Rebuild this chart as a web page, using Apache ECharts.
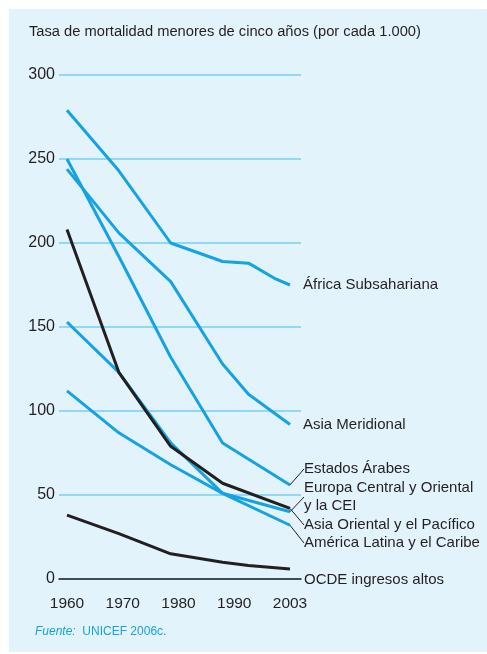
<!DOCTYPE html>
<html><head><meta charset="utf-8">
<script src="https://cdn.jsdelivr.net/npm/echarts@6/dist/echarts.min.js"></script>
<style>html,body{margin:0;padding:0;background:#fff}#c{width:487px;height:654px}</style>
</head><body><div id="c"></div>
<script>
// ---- data ----
const xTickLabels = ['1960', '1970', '1980', '1990', '2003'];
const yTicks = [0, 50, 100, 150, 200, 250, 300];
const africa = [[1960, 279], [1970, 243], [1980, 200], [1990, 189], [1995, 188], [2000, 179], [2003, 175]];
const asiaMeridional = [[1960, 244], [1970, 206], [1980, 177], [1990, 128], [1995, 110], [2003, 92]];
const estadosArabes = [[1960, 250], [1970, 192], [1980, 132], [1990, 81], [2003, 56]];
const europaCentral = [[1960, 112], [1970, 87], [1980, 68], [1990, 51], [2003, 40]];
const asiaOriental = [[1960, 208], [1970, 123], [1980, 79], [1990, 57], [2003, 42]];
const americaLatina = [[1960, 153], [1970, 123], [1980, 81], [1990, 51], [2003, 32]];
const ocde = [[1960, 38], [1970, 27], [1980, 15], [1990, 10], [1995, 8], [2003, 6]];
const seriesNames = ['África Subsahariana', 'Asia Meridional', 'Estados Árabes',
  'Europa Central y Oriental\ny la CEI', 'Asia Oriental y el Pacífico', 'América Latina y el Caribe', 'OCDE ingresos altos'];

const FONT = "'Liberation Sans', Arial, sans-serif";
const BLUE = '#15a3e2';
const DARK = '#231f20';
const GRID = '#74cff5';

const chart = echarts.init(document.getElementById('c'), null, {renderer: 'canvas'});

function mk(name, data, color, lay) {
  const last = data.length - 1;
  const d = data.map((p, i) => i === last ? {value: p, label: {show: true}} : {value: p});
  const s = {
    type: 'line', name: name, data: d, xAxisIndex: 0, yAxisIndex: 0,
    symbol: 'circle', symbolSize: 0.01, showSymbol: true, silent: true,
    lineStyle: {color: color, width: 3}, itemStyle: {color: color},
    z: color === DARK ? 4 : 3,
    label: {show: false, formatter: name, position: 'right', distance: 13,
      color: DARK, fontFamily: FONT, fontSize: 15, lineHeight: 18},
    labelLine: {show: !!(lay && lay.line), lineStyle: {color: DARK, width: 1}}
  };
  if (lay) {
    s.labelLayout = function () {
      return {x: lay.x, y: lay.y, align: 'left', verticalAlign: 'middle'};
    };
  }
  return s;
}

const option = {
  animation: false,
  backgroundColor: '#ffffff',
  graphic: [
    {type: 'rect', z: -100, silent: true, shape: {x: 9, y: 9, width: 478, height: 643}, style: {fill: '#e2f3fc'}},
    {type: 'text', z: 10, left: 29, top: 24, style: {text: 'Tasa de mortalidad menores de cinco años (por cada 1.000)',
      fill: DARK, font: '14.7px ' + FONT}},
    {type: 'text', z: 10, left: 35, top: 626, style: {
      text: '{i|Fuente:}  UNICEF 2006c.', fill: BLUE, font: '12px ' + FONT,
      rich: {i: {fontStyle: 'italic', fill: BLUE, fontFamily: FONT, fontSize: 12}}}}
  ],
  grid: [
    {left: 59, right: 186, top: 75, bottom: 75},
    {left: 67, right: 197, top: 75, bottom: 75}
  ],
  xAxis: [
    {type: 'value', gridIndex: 0, min: 1958.46, max: 2005.12,
      axisLine: {show: true, onZero: true, lineStyle: {color: DARK, width: 1.5}},
      axisTick: {show: false}, axisLabel: {show: false}, splitLine: {show: false}, z: 5},
    {type: 'category', gridIndex: 1, data: xTickLabels, boundaryGap: false,
      axisLine: {show: false}, axisTick: {show: false}, splitLine: {show: false},
      axisLabel: {margin: 17, color: DARK, fontFamily: FONT, fontSize: 15.5}}
  ],
  yAxis: [
    {type: 'value', gridIndex: 0, min: yTicks[0], max: yTicks[yTicks.length - 1], interval: 50,
      axisLine: {show: false}, axisTick: {show: false},
      axisLabel: {margin: 4, color: DARK, fontFamily: FONT, fontSize: 16},
      splitLine: {show: true, lineStyle: {width: 1.6, color: GRID, type: 'solid', opacity: 1}}},
    {type: 'value', gridIndex: 1, min: 0, max: 300, show: false, splitLine: {show: false}}
  ],
  series: [
    mk(seriesNames[0], africa, BLUE, null),
    mk(seriesNames[1], asiaMeridional, BLUE, null),
    mk(seriesNames[2], estadosArabes, BLUE, {x: 304, y: 469, line: true}),
    mk(seriesNames[3], europaCentral, BLUE, {x: 304, y: 497, line: true}),
    mk(seriesNames[5], americaLatina, BLUE, {x: 304, y: 543, line: true}),
    mk(seriesNames[4], asiaOriental, DARK, {x: 304, y: 525, line: true}),
    mk(seriesNames[6], ocde, DARK, {x: 304, y: 580, line: false})
  ]
};
chart.setOption(option);
</script></body></html>
